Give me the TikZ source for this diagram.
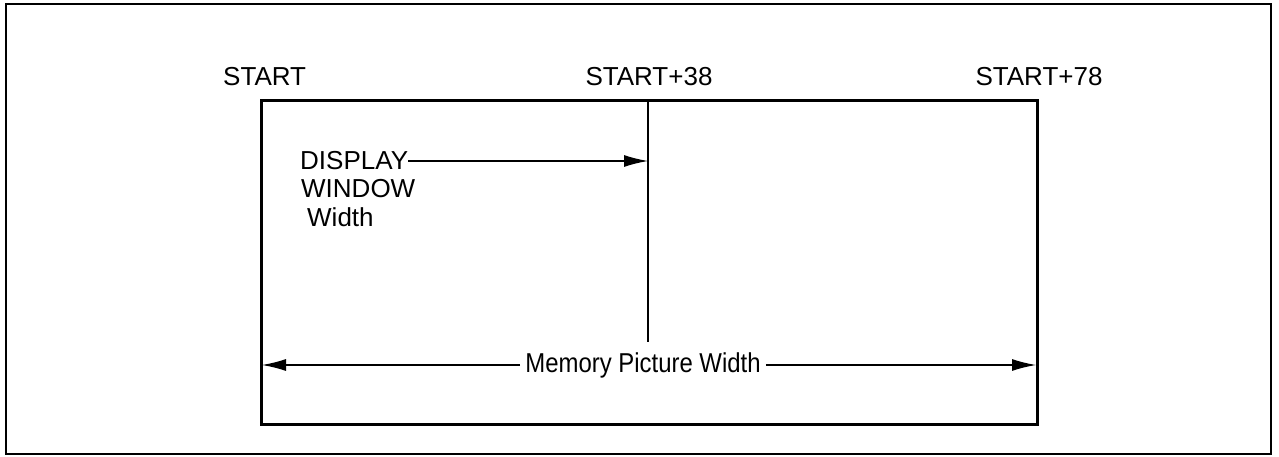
\documentclass[tikz,border=0pt]{standalone}
\usepackage{fontspec}
\setmainfont{Liberation Sans}
\usetikzlibrary{arrows.meta}
\begin{document}
\begin{tikzpicture}[x=1pt,y=-1pt,
  lbl/.style={inner sep=0pt,font=\fontsize{26}{30}\selectfont},
  arr/.style={line width=1.2pt,-{Latex[length=24pt,width=12pt]}}]
\useasboundingbox (0,0) rectangle (1279,457);
\draw[line width=2pt] (6,4) rectangle (1271,454);
\draw[line width=3pt] (261,101) rectangle (1037,424);
\coordinate (vtop) at (648,101);
\coordinate (vbot) at (648,342);
\draw[line width=1.1pt] (vtop) -- (vbot);
\node[lbl,anchor=west] (s0) at (223,77) {START};
\node[lbl] (s38) at (649,77) {START+38};
\node[lbl] (s78) at (1039,77) {START+78};
\node[lbl,anchor=west] (disp) at (300,161) {DISPLAY};
\node[lbl,anchor=west] (win) at (301,189) {WINDOW};
\node[lbl,anchor=west] (wid) at (307,217) {Width};
\coordinate (dtip) at (648,161);
\draw[arr] (disp.east) -- (dtip);
\node[lbl,xscale=0.92,yscale=1.05] (mpw) at (643,365) {Memory Picture Width};
\coordinate (ml) at (262,365);
\coordinate (mr) at (1036,365);
\draw[arr] ([xshift=-5pt]mpw.west) -- (ml);
\draw[arr] ([xshift=5pt]mpw.east) -- (mr);
\end{tikzpicture}
\end{document}
